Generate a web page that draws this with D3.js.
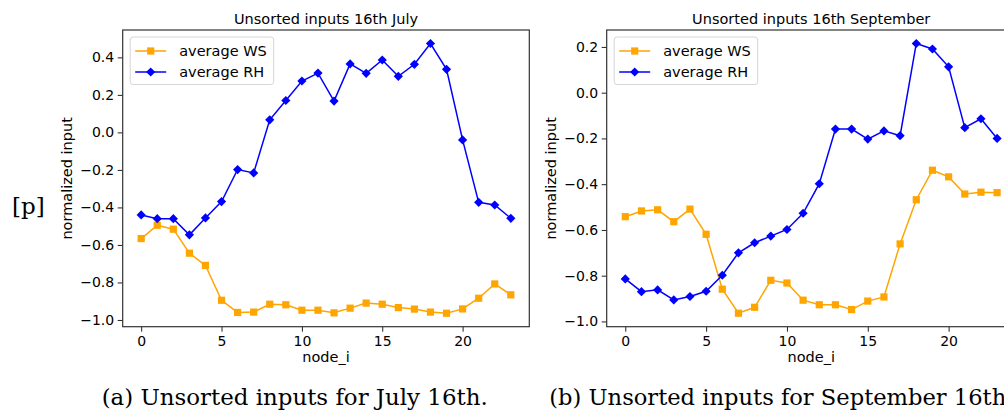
<!DOCTYPE html>
<html>
<head>
<meta charset="utf-8">
<script src="https://cdn.jsdelivr.net/npm/d3@7"></script>
<style>
  html, body { margin: 0; padding: 0; background: #fff; overflow: hidden; }
  svg { display: block; }
  text { font-family: "DejaVu Sans", sans-serif; fill: #000; }
</style>
</head>
<body>
<svg id="chart" width="1004" height="413"></svg>
<script>
// ---------- data ----------
const nodes = d3.range(0, 24);
const xTicks = [0, 5, 10, 15, 20];

const julyWS = [-0.566, -0.495, -0.516, -0.644, -0.709, -0.895, -0.960, -0.958, -0.916, -0.919, -0.948, -0.948,
                -0.962, -0.937, -0.910, -0.916, -0.934, -0.942, -0.958, -0.964, -0.941, -0.884, -0.808, -0.866];
const julyRH = [-0.440, -0.460, -0.460, -0.546, -0.456, -0.369, -0.198, -0.216, 0.067, 0.170, 0.274, 0.316,
                0.167, 0.365, 0.315, 0.386, 0.299, 0.363, 0.474, 0.336, -0.040, -0.373, -0.387, -0.458];
const julyYTicks = [-1.0, -0.8, -0.6, -0.4, -0.2, 0.0, 0.2, 0.4];

const sepWS = [-0.542, -0.517, -0.512, -0.564, -0.509, -0.619, -0.859, -0.964, -0.938, -0.820, -0.832, -0.907,
               -0.927, -0.927, -0.948, -0.911, -0.893, -0.661, -0.468, -0.339, -0.368, -0.443, -0.435, -0.437];
const sepRH = [-0.814, -0.870, -0.862, -0.906, -0.891, -0.868, -0.798, -0.700, -0.656, -0.627, -0.598, -0.527,
               -0.398, -0.159, -0.159, -0.203, -0.167, -0.188, 0.215, 0.191, 0.113, -0.153, -0.114, -0.200];
const sepYTicks = [-1.0, -0.8, -0.6, -0.4, -0.2, 0.0, 0.2];

const seriesNames = ["average WS", "average RH"];
const titles = ["Unsorted inputs 16th July", "Unsorted inputs 16th September"];
const captions = ["(a) Unsorted inputs for July 16th.", "(b) Unsorted inputs for September 16th."];
const sideLabel = "[p]";
const yLabel = "normalized input";
const xLabel = "node_i";

// ---------- styles ----------
const COLORS = ["#FFA500", "#0000FF"];
const svg = d3.select("#chart");
const captionNodes = [];

function drawPanel(opt) {
  const { left, right, top, bottom, ws, rh, yTicks, title, caption, captionX } = opt;
  const g = svg.append("g");

  const xExt = d3.extent(nodes);
  const xm = (xExt[1] - xExt[0]) * 0.05;
  const x = d3.scaleLinear().domain([xExt[0] - xm, xExt[1] + xm]).range([left, right]);

  const yExt = d3.extent(ws.concat(rh));
  const ym = (yExt[1] - yExt[0]) * 0.05;
  const y = d3.scaleLinear().domain([yExt[0] - ym, yExt[1] + ym]).range([bottom, top]);

  // axes
  const fmt = d3.format(".1f");
  const xAxis = g.append("g").attr("transform", `translate(0,${bottom})`)
    .call(d3.axisBottom(x).tickValues(xTicks).tickSize(5).tickPadding(4).tickFormat(d3.format("d")));
  const yAxis = g.append("g").attr("transform", `translate(${left},0)`)
    .call(d3.axisLeft(y).tickValues(yTicks).tickSize(5).tickPadding(3.5).tickFormat(fmt));
  [xAxis, yAxis].forEach(a => {
    a.select(".domain").remove();
    a.selectAll(".tick line").attr("stroke", "#222").attr("stroke-width", 1);
    a.selectAll(".tick text").attr("font-family", "DejaVu Sans").attr("font-size", 14).attr("fill", "#111");
  });

  // spines
  g.append("rect").attr("x", left).attr("y", top).attr("width", right - left).attr("height", bottom - top)
    .attr("fill", "none").attr("stroke", "#333").attr("stroke-width", 1.2);

  const plot = g.append("g");
  const line = d3.line().x((d, i) => x(nodes[i])).y(d => y(d));

  // WS series
  plot.append("path").datum(ws).attr("d", line).attr("fill", "none")
    .attr("stroke", COLORS[0]).attr("stroke-width", 1.5);
  plot.selectAll(".sq").data(ws).enter().append("rect")
    .attr("x", (d, i) => x(nodes[i]) - 3.6).attr("y", d => y(d) - 3.6)
    .attr("width", 7.2).attr("height", 7.2).attr("fill", COLORS[0]);

  // RH series
  plot.append("path").datum(rh).attr("d", line).attr("fill", "none")
    .attr("stroke", COLORS[1]).attr("stroke-width", 1.5);
  const dia = (cx, cy, r) => `M${cx},${cy - r}L${cx + r},${cy}L${cx},${cy + r}L${cx - r},${cy}Z`;
  plot.selectAll(".dm").data(rh).enter().append("path")
    .attr("d", (d, i) => dia(x(nodes[i]), y(d), 4.6)).attr("fill", COLORS[1]);

  // title
  g.append("text").attr("x", (left + right) / 2).attr("y", 24).attr("text-anchor", "middle")
    .attr("font-size", 14.5).text(title);

  // axis labels
  g.append("text").attr("x", (left + right) / 2).attr("y", 362).attr("text-anchor", "middle")
    .attr("font-size", 14.5).text(xLabel);
  g.append("text").attr("transform", `translate(${left - 51},${(top + bottom) / 2}) rotate(-90)`)
    .attr("text-anchor", "middle").attr("font-size", 14.5).text(yLabel);

  // legend
  const lx = left + 7.5, ly = top + 7;
  const lg = g.append("g");
  lg.append("rect").attr("x", lx).attr("y", ly).attr("width", 143.5).attr("height", 47.5)
    .attr("rx", 3).attr("fill", "#fff").attr("fill-opacity", 0.85)
    .attr("stroke", "#d6d6d6").attr("stroke-width", 1);
  seriesNames.forEach((name, k) => {
    const ry = ly + 14 + k * 21;
    lg.append("line").attr("x1", lx + 5).attr("x2", lx + 36).attr("y1", ry).attr("y2", ry)
      .attr("stroke", COLORS[k]).attr("stroke-width", 1.5);
    if (k === 0) {
      lg.append("rect").attr("x", lx + 20.5 - 3.6).attr("y", ry - 3.6).attr("width", 7.2).attr("height", 7.2)
        .attr("fill", COLORS[k]);
    } else {
      lg.append("path").attr("d", dia(lx + 20.5, ry, 4.6)).attr("fill", COLORS[k]);
    }
    lg.append("text").attr("x", lx + 49).attr("y", ry + 5).attr("font-size", 14.5).text(name);
  });

  // caption
  const cap = svg.append("text").attr("x", captionX).attr("y", 405)
    .style("font-family", "'DejaVu Serif', serif").attr("font-size", 22.6).attr("fill", "#111")
    .text(caption);
  captionNodes.push(cap);
}

drawPanel({ left: 122.7, right: 529.3, top: 30, bottom: 326.7, ws: julyWS, rh: julyRH,
  yTicks: julyYTicks, title: titles[0], caption: captions[0], captionX: 101.7 });
drawPanel({ left: 606.7, right: 1015.7, top: 30, bottom: 326.7, ws: sepWS, rh: sepRH,
  yTicks: sepYTicks, title: titles[1], caption: captions[1], captionX: 549.3 });

// stretch caption (a) to the reference width; keep (b) natural
const natA = captionNodes[0].node().getComputedTextLength();
if (natA > 0) {
  captionNodes[0].attr("textLength", 386).attr("lengthAdjust", "spacingAndGlyphs");
}

svg.append("text").attr("x", 12).attr("y", 214)
  .style("font-family", "'DejaVu Serif', serif").attr("font-size", 23).attr("fill", "#111")
  .text(sideLabel);
</script>
</body>
</html>
